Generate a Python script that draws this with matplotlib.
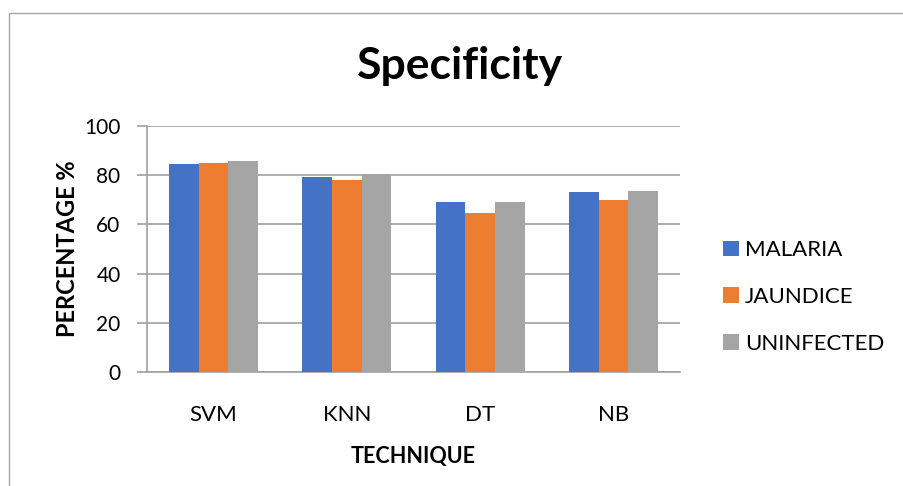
import matplotlib
matplotlib.use("Agg")
import matplotlib.pyplot as plt
from matplotlib.patches import Rectangle
import numpy as np

plt.rcParams['font.family'] = ['Lato', 'DejaVu Sans']

techniques = ["SVM", "KNN", "DT", "NB"]
malaria = [84.5, 79.4, 69.1, 73.2]
jaundice = [84.9, 78.2, 64.6, 70.0]
uninfected = [85.7, 80.4, 69.3, 73.6]
series_names = ["MALARIA", "JAUNDICE", "UNINFECTED"]
y_ticks = [0, 20, 40, 60, 80, 100]

colors = ["#4472C4", "#ED7D31", "#A5A5A5"]
grid_color = "#a0a0a0"

W, H = 904, 486
fig = plt.figure(figsize=(W / 100, H / 100), dpi=100)

# outer chart frame
fig.patches.append(Rectangle((8.5 / W, -0.01), 1.2, 1 - 13.5 / H + 0.01,
                             transform=fig.transFigure, fill=False,
                             edgecolor="#a6a6a6", linewidth=1.0))

ax = fig.add_axes([147 / W, 1 - 372 / H, (680 - 147) / W, (372 - 126) / H])

x = np.arange(len(techniques))
bw = 1 / 4.5
for i, (vals, name) in enumerate(zip([malaria, jaundice, uninfected], series_names)):
    ax.bar(x + (i - 1) * bw, vals, width=bw, color=colors[i], label=name, zorder=3)

ax.set_xlim(-0.5, len(techniques) - 0.5)
ax.set_ylim(0, 100)
ax.set_yticks(y_ticks)
ax.set_xticks(x)
ax.set_xticklabels(techniques, fontsize=16)
ax.tick_params(axis='x', length=0, pad=24)
ax.tick_params(axis='y', length=7, color=grid_color, width=1.2, labelsize=15, pad=12)
ax.yaxis.grid(True, color=grid_color, linewidth=1.2, zorder=0)

for s in ["top", "right"]:
    ax.spines[s].set_visible(False)
ax.spines["left"].set_color(grid_color)
ax.spines["bottom"].set_color(grid_color)
ax.spines["left"].set_linewidth(1.2)
ax.spines["bottom"].set_linewidth(1.2)

ax.set_xlabel("TECHNIQUE", fontsize=15.5, fontweight="bold", labelpad=15)
ax.set_ylabel("PERCENTAGE %", fontsize=17, fontweight="bold", labelpad=4)

fig.text(460 / W, 1 - 66 / H, "Specificity", fontsize=32, fontweight="bold",
         ha="center", va="center")

ax.legend(loc="center left", bbox_to_anchor=(703 / W, 1 - 297 / H),
          bbox_transform=fig.transFigure, frameon=False, fontsize=16,
          handlelength=0.7, handleheight=0.7, handletextpad=0.3,
          labelspacing=1.2)

fig.savefig("out.png", dpi=100)
